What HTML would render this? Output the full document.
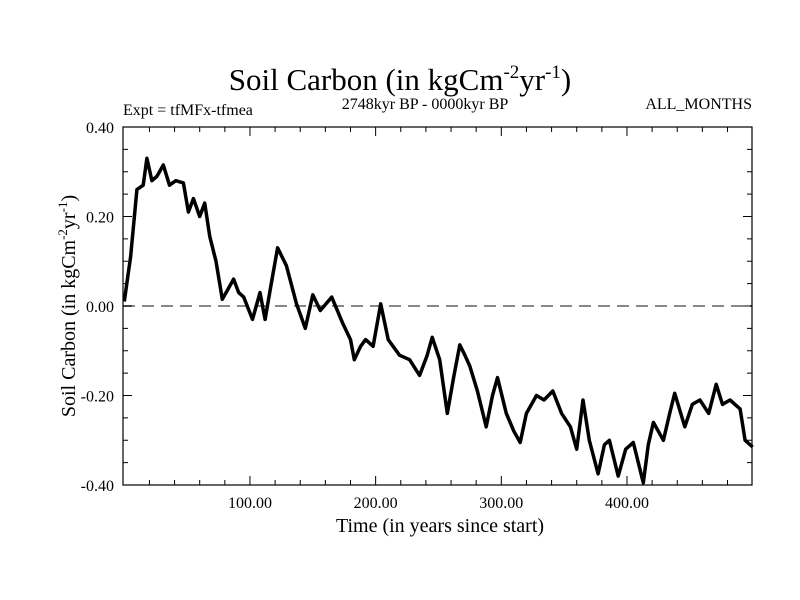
<!DOCTYPE html>
<html><head><meta charset="utf-8"><style>
body{margin:0;background:#fff}
svg{display:block;font-family:"Liberation Serif",serif}
</style></head><body>
<svg width="800" height="600" viewBox="0 0 800 600">
<rect width="800" height="600" fill="#fff"/>
<text x="400" y="90" text-anchor="middle" font-size="31">Soil Carbon (in kgCm<tspan font-size="19" dy="-12">-2</tspan><tspan dy="12">yr</tspan><tspan font-size="19" dy="-12">-1</tspan><tspan dy="12">)</tspan></text>
<text x="425" y="109" text-anchor="middle" font-size="16">2748kyr BP - 0000kyr BP</text>
<text x="123" y="115" font-size="16">Expt = tfMFx-tfmea</text>
<text x="752" y="109" text-anchor="end" font-size="16">ALL_MONTHS</text>
<g id="axes"></g>
<text x="440" y="532" text-anchor="middle" font-size="20">Time (in years since start)</text>
<text transform="translate(75,306) rotate(-90)" text-anchor="middle" font-size="20">Soil Carbon (in kgCm<tspan font-size="13" dy="-8">-2</tspan><tspan dy="8">yr</tspan><tspan font-size="13" dy="-8">-1</tspan><tspan dy="8">)</tspan></text>
</svg>
<script>
const times=[0,2,5,8,10,15,18,22,26,31,36,41,47,51,55,60,64,68,73,78,83,87,91,95,102,108,112,116,122,129,137,144,150,156,165,174,180,183,188,192,198,204,210,219,227,235,241,245,251,257,262,267,271,275,281,288,293,297,304,310,315,320,328,334,341,348,355,360,365,370,377,382,386,393,399,405,413,417,421,429,434,438,446,452,458,465,471,476,482,490,494,500];
const values=[0.01,0.05,0.11,0.2,0.26,0.27,0.33,0.28,0.29,0.315,0.27,0.28,0.275,0.21,0.24,0.20,0.23,0.155,0.10,0.015,0.04,0.06,0.03,0.02,-0.03,0.03,-0.03,0.035,0.13,0.09,0.005,-0.05,0.025,-0.01,0.02,-0.04,-0.075,-0.12,-0.09,-0.075,-0.09,0.005,-0.075,-0.11,-0.12,-0.155,-0.11,-0.07,-0.12,-0.24,-0.16,-0.087,-0.11,-0.135,-0.19,-0.27,-0.2,-0.16,-0.24,-0.28,-0.305,-0.24,-0.2,-0.21,-0.19,-0.24,-0.27,-0.32,-0.21,-0.3,-0.375,-0.31,-0.30,-0.38,-0.32,-0.305,-0.395,-0.31,-0.26,-0.30,-0.24,-0.195,-0.27,-0.22,-0.21,-0.24,-0.175,-0.22,-0.21,-0.23,-0.30,-0.315];
const xTicks=[100,200,300,400];
const yTicks=[0.4,0.2,0,-0.2,-0.4];
const X0=124.3,XL=123,XR=752,YT=127,YB=485;
const xs=t=>X0+t*1.2567;
const ys=v=>306-v*447.5;
const NS="http://www.w3.org/2000/svg";
const g=document.getElementById('axes');
function mk(tag,attrs){const e=document.createElementNS(NS,tag);for(const k in attrs)e.setAttribute(k,attrs[k]);g.appendChild(e);return e;}
const zl=mk('line',{x1:XL,x2:XR,y1:ys(0),y2:ys(0),stroke:'#888','stroke-width':2,'stroke-dasharray':'12,7'});


for(let t=20;t<500;t+=20){const big=t%100===0;const L=big?9:5;
 mk('line',{x1:xs(t),x2:xs(t),y1:YB,y2:YB-L,stroke:'#000'});
 mk('line',{x1:xs(t),x2:xs(t),y1:YT,y2:YT+L,stroke:'#000'});}
for(let i=-7;i<=7;i++){const v=i*0.05;const big=i%4===0;const L=big?9:5;
 mk('line',{x1:XL,x2:XL+L,y1:ys(v),y2:ys(v),stroke:'#000'});
 mk('line',{x1:XR,x2:XR-L,y1:ys(v),y2:ys(v),stroke:'#000'});}
xTicks.forEach(t=>{const e=mk('text',{x:xs(t),y:508,'text-anchor':'middle','font-size':16});e.textContent=t.toFixed(2);

});
yTicks.forEach(v=>{const e=mk('text',{x:114,y:ys(v)+6,'text-anchor':'end','font-size':16});e.textContent=v.toFixed(2);

});
const d=times.map((t,i)=>(i?'L':'M')+xs(t).toFixed(1)+','+ys(values[i]).toFixed(1)).join('');
const p=mk('path',{d:d,fill:'none',stroke:'#000','stroke-width':3.5,'stroke-linejoin':'round'});


const f=mk('rect',{x:XL,y:YT,width:XR-XL,height:YB-YT,fill:'none',stroke:'#000','stroke-width':1.2});


</script>
</body></html>
